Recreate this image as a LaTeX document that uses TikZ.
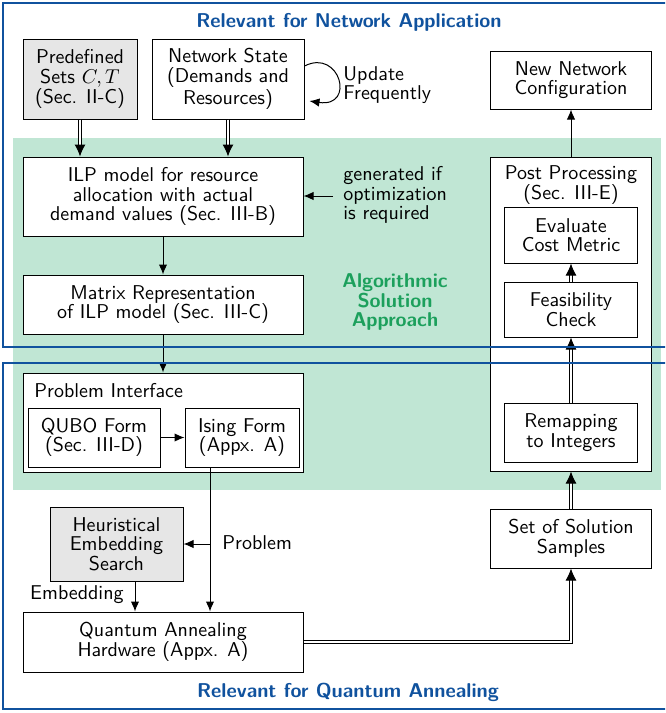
\documentclass[tikz,border=0pt]{standalone}
\usetikzlibrary{arrows.meta,calc}
\definecolor{qblue}{RGB}{16,82,158}
\definecolor{qgreen}{RGB}{28,160,92}
\definecolor{bggreen}{RGB}{192,230,212}
\definecolor{boxgray}{RGB}{230,230,230}
\begin{document}
\begin{tikzpicture}[x=0.5pt,y=-0.5pt,
  every node/.style={font=\sffamily\fontsize{10}{9.8}\selectfont},
  box/.style={draw, line width=0.5pt, fill=white, align=center, inner sep=0pt},
  lbl/.style={align=left, inner sep=0pt},
  arr/.style={-{Latex[length=5pt,width=4.2pt]}, line width=0.5pt},
  dbl/.style={-{Latex[length=6pt,width=5.5pt]}, double, double distance=1.3pt, line width=0.5pt},
  frame/.style={draw=qblue, line width=1pt},
  head/.style={font=\sffamily\bfseries\fontsize{10}{9.8}\selectfont, text=qblue, inner sep=0pt}]
\useasboundingbox (0,0) rectangle (665,713);
\fill[white] (0,0) rectangle (665,713);
\clip (0,0) rectangle (665,713);
% green background
\fill[bggreen] (13,138) rectangle (661,490);
% nodes
\node[box, fill=boxgray, minimum width=57pt, minimum height=40pt] (pre) at (80,79) {Predefined\\Sets $C, T$\\(Sec. II-C)};
\node[box, minimum width=76pt, minimum height=40pt] (ns) at (228,79) {Network State\\(Demands and\\Resources)};
\node[box, minimum width=80.5pt, minimum height=29pt] (nnc) at (571,80) {New Network\\Configuration};
\node[box, minimum width=140pt, minimum height=39.5pt] (ilp) at (163,196.5) {ILP model for resource\\allocation with actual\\demand values (Sec. III-B)};
\node[box, minimum width=140pt, minimum height=29.5pt] (mat) at (163,304.5) {Matrix Representation\\of ILP model (Sec. III-C)};
\node[box, minimum width=140pt, minimum height=49.5pt] (pi) at (163,422.5) {};
\node[lbl, anchor=west] (pit) at (34,391) {Problem Interface};
\node[box, minimum width=66pt, minimum height=29.5pt] (qubo) at (94,437.5) {QUBO Form\\(Sec. III-D)};
\node[box, minimum width=57pt, minimum height=29.5pt] (ising) at (242,437.5) {Ising Form\\(Appx. A)};
\node[box, fill=boxgray, minimum width=66.5pt, minimum height=37pt] (heur) at (116.5,544) {Heuristical\\Embedding\\Search};
\node[box, minimum width=140pt, minimum height=30pt] (qa) at (163,642) {Quantum Annealing\\Hardware (Appx. A)};
\node[box, minimum width=80.5pt, minimum height=29.5pt] (set) at (571,538.5) {Set of Solution\\Samples};
\node[box, minimum width=80.5pt, minimum height=157pt] (pp) at (571,314) {};
\node[align=center, inner sep=0pt] (ppt) at (571,185) {Post Processing\\(Sec. III-E)};
\node[box, minimum width=66.5pt, minimum height=28pt] (eval) at (571,235) {Evaluate\\Cost Metric};
\node[box, minimum width=66.5pt, minimum height=27.5pt] (feas) at (571,309.5) {Feasibility\\Check};
\node[box, minimum width=66.5pt, minimum height=29.5pt] (remap) at (571,432.5) {Remapping\\to Integers};
% labels
\node[lbl, anchor=west] (upd) at (343,85) {Update\\Frequently};
\node[lbl, anchor=west] (gen) at (343,195) {generated if\\optimization\\is required};
\node[align=center, inner sep=0pt, text=qgreen, font=\sffamily\bfseries\fontsize{10}{9.6}\selectfont] (alg) at (395,302) {Algorithmic\\Solution\\Approach};
\node[lbl, anchor=west] (prob) at (222,543) {Problem};
\node[lbl, anchor=east] (emb) at (124,595) {Embedding};
\coordinate (genc) at (333,196);
\coordinate (pb) at (210,544);
\coordinate (eb) at (135,596);
% connectors
\draw[dbl] (pre.south) -- (ilp.north -| pre.south);
\draw[dbl] (ns.south) -- (ilp.north -| ns.south);
\draw[arr] ($(ns.east)+(0,-13)$) .. controls (340,48) and (356,108) .. ($(ns.east)+(5,22)$);
\draw[arr] (genc) -- (genc -| ilp.east);
\draw[arr] (ilp.south) -- (mat.north);
\draw[arr] (mat.south) -- (pi.north);
\draw[arr] (qubo.east) -- (ising.west);
\draw[arr] (ising.south -| pb) -- (qa.north -| pb);
\draw[arr] (pb) -- (heur.east);
\draw[arr] (heur.south -| eb) -- (qa.north -| eb);
\draw[dbl] (qa.east) -- (qa.east -| set.south) -- (set.south);
\draw[dbl] (set.north) -- (pp.south);
\draw[dbl] (remap.north) -- (feas.south);
\draw[dbl] (feas.north) -- (eval.south);
\draw[arr] (pp.north) -- (nnc.south);
% blue frames
\draw[frame] (700,347) -- (3,347) -- (3,3) -- (700,3);
\draw[frame] (700,363) -- (3,363) -- (3,709) -- (700,709);
\node[head] (h1) at (349,22) {Relevant for Network Application};
\node[head] (h2) at (348,692) {Relevant for Quantum Annealing};
\end{tikzpicture}
\end{document}
